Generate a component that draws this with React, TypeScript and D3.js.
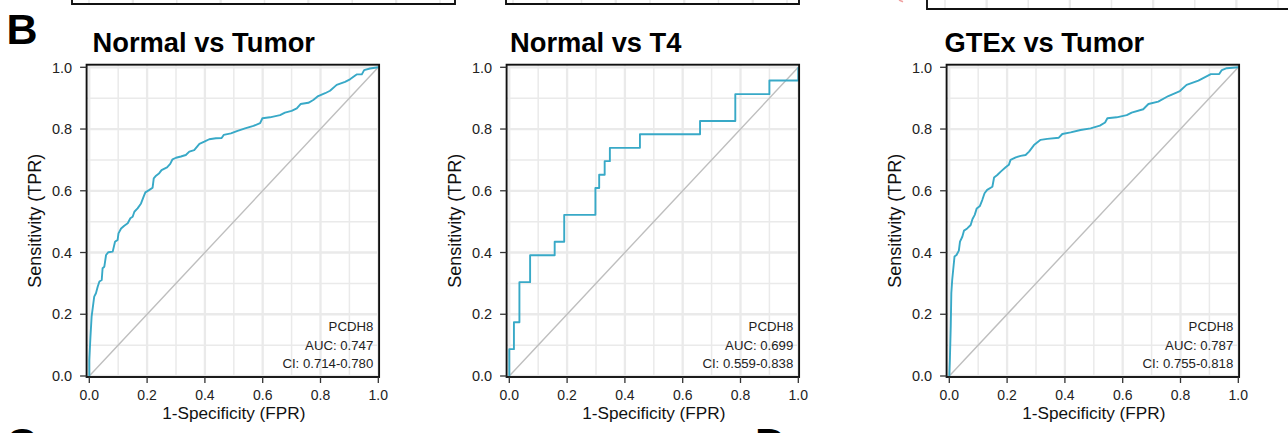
import React from "react";
import * as d3 from "d3";

// ---------- data ----------
const panelTitles = ["Normal vs Tumor", "Normal vs T4", "GTEx vs Tumor"];
const markerName = "PCDH8";
const aucLabels = ["AUC: 0.747", "AUC: 0.699", "AUC: 0.787"];
const ciLabels = ["CI: 0.714-0.780", "CI: 0.559-0.838", "CI: 0.755-0.818"];
const majorTicks = [0, 0.2, 0.4, 0.6, 0.8, 1.0];
const minorTicks = [0.1, 0.3, 0.5, 0.7, 0.9];
const xAxisTitle = "1-Specificity (FPR)";
const yAxisTitle = "Sensitivity (TPR)";

const tumorFpr = [0, 0, 0.004, 0.008, 0.017, 0.023, 0.029, 0.035, 0.043, 0.046, 0.052, 0.058, 0.066, 0.081, 0.089, 0.098, 0.101, 0.110, 0.121, 0.133, 0.142, 0.150, 0.156, 0.167, 0.179, 0.188, 0.194, 0.208, 0.219, 0.223, 0.231, 0.242, 0.250, 0.269, 0.280, 0.288, 0.300, 0.317, 0.334, 0.346, 0.363, 0.381, 0.398, 0.415, 0.438, 0.458, 0.465, 0.490, 0.513, 0.539, 0.568, 0.591, 0.599, 0.625, 0.660, 0.677, 0.700, 0.718, 0.731, 0.758, 0.775, 0.792, 0.816, 0.833, 0.856, 0.885, 0.902, 0.925, 0.943, 0.951, 0.971, 1.0];
const tumorTpr = [0, 0.052, 0.127, 0.192, 0.257, 0.268, 0.289, 0.306, 0.311, 0.349, 0.354, 0.392, 0.401, 0.403, 0.435, 0.441, 0.462, 0.478, 0.487, 0.495, 0.511, 0.516, 0.532, 0.543, 0.559, 0.581, 0.595, 0.603, 0.610, 0.640, 0.649, 0.657, 0.667, 0.676, 0.687, 0.702, 0.707, 0.711, 0.716, 0.727, 0.732, 0.752, 0.759, 0.767, 0.770, 0.771, 0.781, 0.786, 0.794, 0.802, 0.810, 0.819, 0.835, 0.838, 0.845, 0.853, 0.859, 0.867, 0.881, 0.885, 0.894, 0.907, 0.916, 0.924, 0.943, 0.953, 0.961, 0.977, 0.977, 0.991, 0.996, 1.0];

const t4Fpr = [0, 0, 0.016, 0.035, 0.072, 0.157, 0.190, 0.298, 0.311, 0.330, 0.348, 0.452, 0.660, 0.782, 0.900, 1.0];
const t4Tpr = [0, 0.087, 0.174, 0.304, 0.391, 0.435, 0.522, 0.609, 0.652, 0.696, 0.739, 0.783, 0.826, 0.913, 0.957, 1.0];

const gtexFpr = [0, 0.002, 0.005, 0.007, 0.010, 0.014, 0.018, 0.025, 0.033, 0.037, 0.045, 0.051, 0.062, 0.074, 0.080, 0.088, 0.095, 0.106, 0.114, 0.122, 0.131, 0.149, 0.155, 0.166, 0.178, 0.195, 0.206, 0.212, 0.230, 0.247, 0.264, 0.276, 0.293, 0.316, 0.339, 0.379, 0.391, 0.420, 0.454, 0.489, 0.521, 0.539, 0.547, 0.579, 0.614, 0.631, 0.671, 0.689, 0.723, 0.758, 0.798, 0.821, 0.862, 0.885, 0.905, 0.934, 0.943, 0.960, 1.0];
const gtexTpr = [0, 0.052, 0.160, 0.268, 0.311, 0.349, 0.387, 0.392, 0.406, 0.435, 0.451, 0.471, 0.478, 0.489, 0.508, 0.522, 0.543, 0.551, 0.570, 0.592, 0.603, 0.613, 0.643, 0.651, 0.662, 0.676, 0.684, 0.700, 0.708, 0.713, 0.716, 0.727, 0.748, 0.765, 0.768, 0.772, 0.784, 0.789, 0.797, 0.802, 0.811, 0.821, 0.835, 0.838, 0.845, 0.853, 0.864, 0.881, 0.889, 0.907, 0.923, 0.943, 0.957, 0.968, 0.978, 0.978, 0.991, 0.997, 1.0];

// ---------- layout ----------
const W = 1288;
const H = 433;
const FONT = "'Liberation Sans', Arial, Helvetica, sans-serif";
const CURVE = "#38A9C7";
const GRID = "#EAEAEA";
const originX = [89.3, 509.3, 949.3];
const titleX = [92.5, 510, 944.5];
const plotW = 289;
const yZero = 376;
const yOne = 67.3;
const borderTop = 64.7;
const borderBottom = 377;
const borderLeftPad = 2.7;
const borderRightPad = 0.8;

type Series = { fpr: number[]; tpr: number[]; step: boolean };
const seriesList: Series[] = [
  { fpr: tumorFpr, tpr: tumorTpr, step: false },
  { fpr: t4Fpr, tpr: t4Tpr, step: true },
  { fpr: gtexFpr, tpr: gtexTpr, step: false },
];

// partial panels from the row above (only bottom edges visible)
const topBoxes = [
  { x0: 72, x1: 455, y: 4, g0: 89, g1: 440, n: 9 },
  { x0: 506, x1: 799, y: 4, g0: 513, g1: 787, n: 9 },
  { x0: 927, x1: 1300, y: 9, g0: 945, g1: 1278, n: 9 },
];

function Panel({ i }: { i: number }) {
  const ox = originX[i];
  const x = d3.scaleLinear().domain([0, 1]).range([ox, ox + plotW]);
  const y = d3.scaleLinear().domain([0, 1]).range([yZero, yOne]);
  const s = seriesList[i];
  const pts: [number, number][] = s.fpr.map((f, k) => [f, s.tpr[k]]);
  const line = d3
    .line<[number, number]>()
    .x((d) => x(d[0]))
    .y((d) => y(d[1]))
    .curve(s.step ? d3.curveStepAfter : d3.curveLinear);
  const bx0 = ox - borderLeftPad;
  const bx1 = ox + plotW + borderRightPad;
  const clipId = `clip-${i}`;
  return (
    <g>
      <defs>
        <clipPath id={clipId}>
          <rect x={bx0} y={borderTop} width={bx1 - bx0} height={borderBottom - borderTop} />
        </clipPath>
      </defs>
      <rect x={bx0} y={borderTop} width={bx1 - bx0} height={borderBottom - borderTop} fill="#fff" />
      <g clipPath={`url(#${clipId})`}>
        {minorTicks.map((t) => (
          <g key={"mn" + t}>
            <line x1={x(t)} x2={x(t)} y1={borderTop} y2={borderBottom} stroke={GRID} strokeWidth={1.5} />
            <line x1={bx0} x2={bx1} y1={y(t)} y2={y(t)} stroke={GRID} strokeWidth={1.5} />
          </g>
        ))}
        {majorTicks.map((t) => (
          <g key={"mj" + t}>
            <line x1={x(t)} x2={x(t)} y1={borderTop} y2={borderBottom} stroke={GRID} strokeWidth={2.3} />
            <line x1={bx0} x2={bx1} y1={y(t)} y2={y(t)} stroke={GRID} strokeWidth={2.3} />
          </g>
        ))}
        <line x1={x(0)} y1={y(0)} x2={x(1)} y2={y(1)} stroke="#BEBEBE" strokeWidth={1.4} />
        <path d={line(pts) || ""} fill="none" stroke={CURVE} strokeWidth={1.9} strokeLinejoin="round" />
      </g>
      <rect x={bx0} y={borderTop} width={bx1 - bx0} height={borderBottom - borderTop} fill="none" stroke="#111" strokeWidth={1.9} />
      {/* y axis */}
      {majorTicks.map((t) => (
        <g key={"yt" + t}>
          <line x1={bx0 - 6.5} x2={bx0} y1={y(t)} y2={y(t)} stroke="#333" strokeWidth={1.3} />
          <text x={bx0 - 14.5} y={y(t)} dy="0.36em" textAnchor="end" fontSize={14.5} fill="#222" fontFamily={FONT}>
            {t.toFixed(1)}
          </text>
        </g>
      ))}
      {/* x axis */}
      {majorTicks.map((t) => (
        <g key={"xt" + t}>
          <line x1={x(t)} x2={x(t)} y1={borderBottom} y2={borderBottom + 6} stroke="#333" strokeWidth={1.3} />
          <text x={x(t)} y={borderBottom + 23} textAnchor="middle" fontSize={14} fill="#222" fontFamily={FONT}>
            {t.toFixed(1)}
          </text>
        </g>
      ))}
      <text x={x(0.5)} y={418.5} textAnchor="middle" fontSize={17.2} fill="#111" fontFamily={FONT}>
        {xAxisTitle}
      </text>
      <text
        transform={`translate(${ox - 48.5},${(borderTop + borderBottom) / 2}) rotate(-90)`}
        textAnchor="middle"
        fontSize={18}
        fill="#111"
        fontFamily={FONT}
      >
        {yAxisTitle}
      </text>
      <text x={titleX[i]} y={51.7} fontSize={27.3} fontWeight="bold" fill="#000" fontFamily={FONT}>
        {panelTitles[i]}
      </text>
      {/* annotation */}
      <g fontSize={13.2} fill="#222" fontFamily={FONT} textAnchor="end">
        <text x={ox + plotW - 5} y={331}>{markerName}</text>
        <text x={ox + plotW - 5} y={349.5}>{aucLabels[i]}</text>
        <text x={ox + plotW - 5} y={368}>{ciLabels[i]}</text>
      </g>
    </g>
  );
}

export default function App() {
  return (
    <div style={{ position: "absolute", left: 0, top: 0, width: W, height: H, background: "#fff" }}>
      <svg width={W} height={H} viewBox={`0 0 ${W} ${H}`} style={{ display: "block" }}>
        <rect x={0} y={0} width={W} height={H} fill="#fff" />
        {topBoxes.map((b, k) => {
          const gx = d3.scaleLinear().domain([0, b.n - 1]).range([b.g0, b.g1]);
          return (
            <g key={"tb" + k}>
              {d3.range(b.n).map((j) => (
                <line key={j} x1={gx(j)} x2={gx(j)} y1={-2} y2={b.y} stroke={GRID} strokeWidth={j % 2 === 0 ? 1.5 : 2.3} />
              ))}
              <path d={`M${b.x0},-2 L${b.x0},${b.y} L${b.x1},${b.y} L${b.x1},-2`} fill="none" stroke="#111" strokeWidth={1.9} />
            </g>
          );
        })}
        <line x1={899} x2={903} y1={0} y2={1.8} stroke="#F0A0A0" strokeWidth={1.5} />
        <text x={6.5} y={43.5} fontSize={43} fontWeight="bold" fill="#000" fontFamily={FONT}>B</text>
        <text x={6} y={458} fontSize={43} fontWeight="bold" fill="#000" fontFamily={FONT}>C</text>
        <text x={755} y={458} fontSize={43} fontWeight="bold" fill="#000" fontFamily={FONT}>D</text>
        {[0, 1, 2].map((i) => (
          <Panel key={i} i={i} />
        ))}
      </svg>
    </div>
  );
}
